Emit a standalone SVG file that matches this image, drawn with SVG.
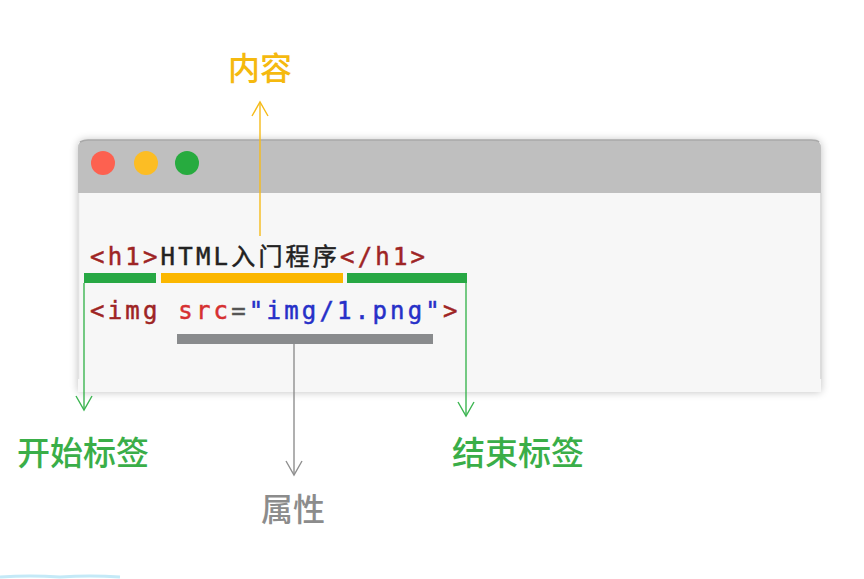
<svg xmlns="http://www.w3.org/2000/svg" width="864" height="579" viewBox="0 0 864 579">
<defs>
<filter id="sh" x="-10%" y="-20%" width="120%" height="140%">
<feGaussianBlur in="SourceAlpha" stdDeviation="4"/>
<feOffset dy="0"/>
<feComponentTransfer><feFuncA type="linear" slope="0.25"/></feComponentTransfer>
<feMerge><feMergeNode/><feMergeNode in="SourceGraphic"/></feMerge>
</filter>
<marker id="ag" viewBox="0 0 20 20" refX="18" refY="10" markerWidth="20" markerHeight="20" markerUnits="userSpaceOnUse" orient="auto">
<path d="M4 2 L18 10 L4 18" fill="none" stroke="#3cb551" stroke-width="1.4"/>
</marker>
<marker id="ay" viewBox="0 0 20 20" refX="18" refY="10" markerWidth="20" markerHeight="20" markerUnits="userSpaceOnUse" orient="auto">
<path d="M4 2 L18 10 L4 18" fill="none" stroke="#f5bb1a" stroke-width="1.4"/>
</marker>
<marker id="ax" viewBox="0 0 20 20" refX="18" refY="10" markerWidth="20" markerHeight="20" markerUnits="userSpaceOnUse" orient="auto">
<path d="M4 2 L18 10 L4 18" fill="none" stroke="#8f8f8f" stroke-width="1.4"/>
</marker>
</defs>
<style>
.code{font-family:"DejaVu Sans Mono","Noto Sans CJK SC",monospace;font-size:24px;letter-spacing:3.2px;stroke-width:0.5px}
.tag{fill:#9e2424;stroke:#9e2424}
.attr{fill:#d63031;stroke:#d63031}
.str{fill:#2630c8;stroke:#2630c8}
.txt{fill:#222;stroke:#222}
.eq{fill:#555;stroke:#555}
.lbl{font-family:"Noto Sans CJK SC","Noto Sans",sans-serif;font-size:33px;font-weight:500}
</style>
<rect width="864" height="579" fill="#ffffff"/>
<g id="window">
<path d="M78 148 Q78 140 86 140 L813 140 Q821 140 821 148 L821 392 L78 392 Z" fill="#f7f7f7" filter="url(#sh)"/>
<path d="M78 148 Q78 140 86 140 L813 140 Q821 140 821 148 L821 193 L78 193 Z" fill="#bfbfbf"/>
<path d="M80 142 Q84 140 88 140 L811 140 Q817 140 819 142" fill="none" stroke="#a9a9a9" stroke-width="1.5"/>
<line x1="78.5" y1="193" x2="78.5" y2="379" stroke="#e2e2e2" stroke-width="1.5"/>
<line x1="821" y1="193" x2="821" y2="379" stroke="#dcdcdc" stroke-width="2"/>
<circle cx="103" cy="163" r="12" fill="#fd6150"/>
<circle cx="146" cy="163" r="12" fill="#fcbd24"/>
<circle cx="187" cy="163" r="12" fill="#27ab3f"/>
</g>
<g id="code">
<text class="code" x="90" y="265"><tspan class="tag">&lt;h1&gt;</tspan><tspan class="txt">HTML入门程序</tspan><tspan class="tag">&lt;/h1&gt;</tspan></text>
<text class="code" x="90" y="319"><tspan class="tag">&lt;img </tspan><tspan class="attr">src</tspan><tspan class="eq">=</tspan><tspan class="str">"img/1.png"</tspan><tspan class="tag">&gt;</tspan></text>
</g>
<g id="bars">
<rect x="84" y="273" width="72" height="10" fill="#27a844"/>
<rect x="161" y="273" width="182" height="10" fill="#fbb700"/>
<rect x="347" y="273" width="120" height="10" fill="#27a844"/>
<rect x="177" y="334" width="256" height="10" fill="#898b8d"/>
</g>
<g id="connectors" fill="none" stroke-width="1.4">
<line x1="260" y1="236" x2="260" y2="102" stroke="#f5bb1a" marker-end="url(#ay)"/>
<line x1="84" y1="283" x2="84" y2="410" stroke="#3cb551" marker-end="url(#ag)"/>
<line x1="466" y1="283" x2="466" y2="416" stroke="#3cb551" marker-end="url(#ag)"/>
<line x1="294" y1="344" x2="294" y2="475" stroke="#8f8f8f" marker-end="url(#ax)"/>
</g>
<g id="label-content"><text class="lbl" x="228" y="80" fill="#f5b90f" style="font-size:32px">内容</text></g>
<g id="label-start"><text class="lbl" x="17" y="465" fill="#3aae48">开始标签</text></g>
<g id="label-end"><text class="lbl" x="452" y="465" fill="#3aae48">结束标签</text></g>
<g id="label-attr"><text class="lbl" x="261" y="521" fill="#8c8c8c" style="font-size:32px">属性</text></g>
<path d="M0 577 Q30 575 60 577 Q90 575 120 577" fill="none" stroke="#c4e9f7" stroke-width="3"/>
</svg>
